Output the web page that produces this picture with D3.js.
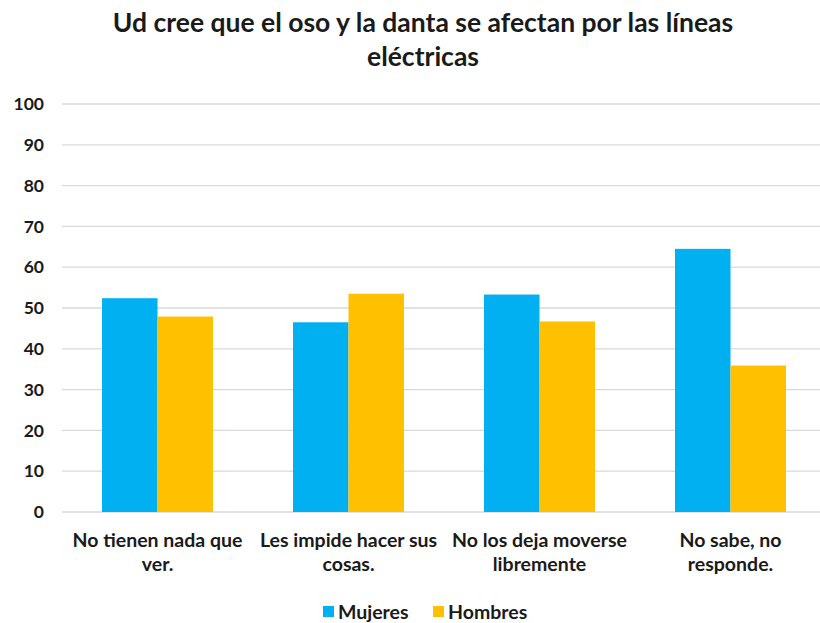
<!DOCTYPE html>
<html><head><meta charset="utf-8">
<script src="https://cdn.jsdelivr.net/npm/d3@7"></script>
<style>body{margin:0;background:#fff}svg{display:block}text{font-family:Lato,"Open Sans",sans-serif;font-weight:bold;fill:#1a1a1a}</style>
</head><body><svg id="c" width="820" height="623"></svg>
<script>
const categories = [["No tienen nada que","ver."],["Les impide hacer sus","cosas."],["No los deja moverse","libremente"],["No sabe, no","responde."]];
const seriesNames = ["Mujeres","Hombres"];
const mujeres = [52.4, 46.5, 53.3, 64.5];
const hombres = [47.9, 53.5, 46.7, 35.9];
const yTicks = [0,10,20,30,40,50,60,70,80,90,100];
const colors = ["#00B0F0","#FFC000"];
const titleLines = ["Ud cree que el oso y la danta se afectan por las líneas","eléctricas"];

const svg = d3.select("#c");
const x = d3.scaleBand().domain(d3.range(categories.length)).range([62,826]).paddingInner(0.419).paddingOuter(0.2095);
const xs = d3.scaleBand().domain(d3.range(2)).range([0,x.bandwidth()]);
const y = d3.scaleLinear().domain([0,100]).range([512,104]);

svg.append("g").selectAll("line").data(yTicks).join("line")
  .attr("x1",62).attr("x2",826).attr("y1",d=>y(d)).attr("y2",d=>y(d))
  .attr("stroke","#d9d9d9").attr("stroke-width",1.3);

const yAxis = svg.append("g").attr("transform","translate(44,0)")
  .call(d3.axisLeft(y).tickValues(yTicks).tickSize(0).tickPadding(0));
yAxis.select(".domain").remove();
yAxis.selectAll("text").attr("font-size",17.5).attr("font-family","Lato").attr("font-weight","bold").attr("fill","#1a1a1a");

const series = [mujeres, hombres];
series.forEach((vals,si)=>{
  svg.append("g").selectAll("rect").data(vals).join("rect")
    .attr("x",(d,i)=>x(i)+xs(si)).attr("width",xs.bandwidth())
    .attr("y",d=>y(d)).attr("height",d=>y(0)-y(d)).attr("fill",colors[si]);
});

const xl = svg.append("g");
categories.forEach((lines,i)=>{
  const t = xl.append("text").attr("text-anchor","middle").attr("font-size",19.5)
    .attr("x",x(i)+x.bandwidth()/2).attr("y",547);
  lines.forEach((l,j)=>t.append("tspan").attr("x",x(i)+x.bandwidth()/2).attr("dy",j?24:0).text(l));
});

const title = svg.append("text").attr("text-anchor","middle").attr("font-size",26.5).attr("y",32);
titleLines.forEach((l,j)=>title.append("tspan").attr("x",423).attr("dy",j?34:0).text(l));

const legX = [323, 433];
seriesNames.forEach((n,i)=>{
  svg.append("rect").attr("x",legX[i]).attr("y",606).attr("width",11).attr("height",11).attr("fill",colors[i]);
  svg.append("text").attr("x",legX[i]+15).attr("y",619).attr("font-size",19.5).text(n);
});
</script></body></html>
